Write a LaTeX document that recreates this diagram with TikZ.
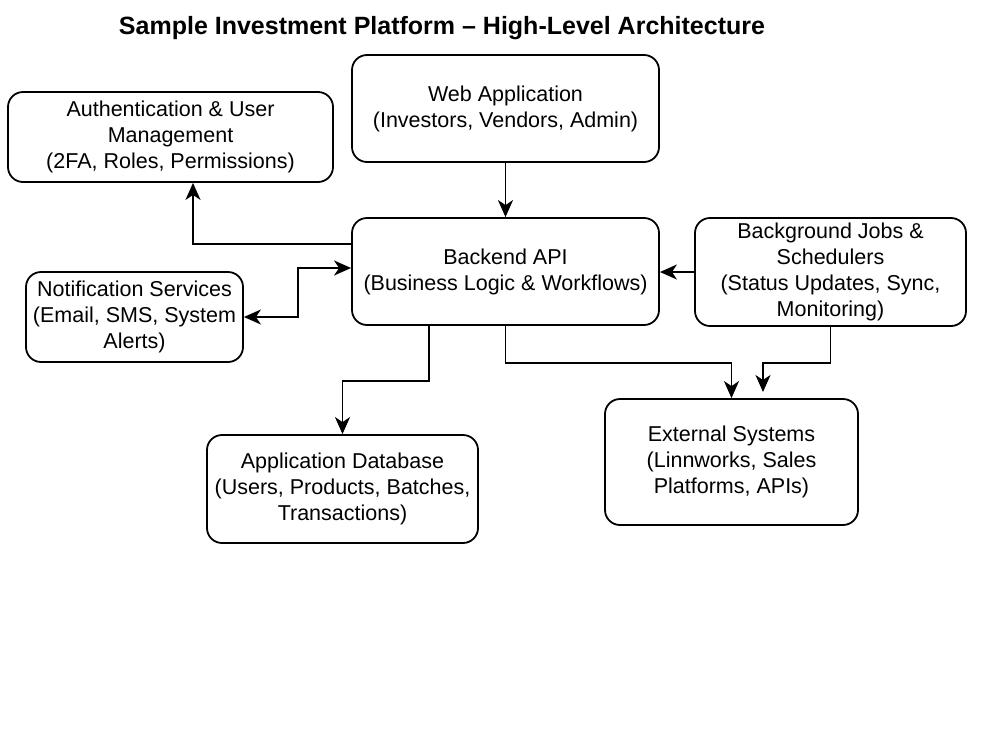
\documentclass[tikz,border=0pt]{standalone}
\usepackage{fontspec}
\setmainfont{Liberation Sans}
\usetikzlibrary{arrows.meta}
\begin{document}
\begin{tikzpicture}[x=1pt,y=-1pt,
 box/.style={draw, line width=1.8pt, rounded corners=15pt, align=center, font=\fontsize{21.5}{26}\selectfont, inner sep=0pt},
 conn/.style={line width=1.8pt, arrows={-Stealth[length=17pt,width=15pt,inset=5pt]}},
 dconn/.style={line width=1.8pt, arrows={Stealth[length=17pt,width=15pt,inset=5pt]-Stealth[length=17pt,width=15pt,inset=5pt]}},
 titlestyle/.style={font=\bfseries\fontsize{25}{28}\selectfont, inner sep=0pt}
]
\useasboundingbox (0,0) rectangle (1000,750);
\node[titlestyle] (title) at (442,28) {Sample Investment Platform – High-Level Architecture};
\node[box, minimum width=325, minimum height=90] (auth) at (170.5,137) {Authentication \& User\\Management\\(2FA, Roles, Permissions)};
\node[box, minimum width=307, minimum height=107] (web) at (505.5,108.5) {Web Application\\(Investors, Vendors, Admin)};
\node[box, minimum width=307, minimum height=107] (backend) at (505.5,271.5) {Backend API\\(Business Logic \& Workflows)};
\node[box, minimum width=271, minimum height=108] (bg) at (830.5,272) {Background Jobs \&\\Schedulers\\(Status Updates, Sync,\\Monitoring)};
\node[box, minimum width=217, minimum height=90] (notif) at (134.5,317) {Notification Services\\(Email, SMS, System\\Alerts)};
\node[box, minimum width=271, minimum height=108] (db) at (342.5,489) {Application Database\\(Users, Products, Batches,\\Transactions)};
\node[box, minimum width=253, minimum height=126] (ext) at (731.5,462) {External Systems\\(Linnworks, Sales\\Platforms, APIs)};
\coordinate (bgend) at (763,392);
\draw[conn] (web) -- (backend);
\draw[conn] ([yshift=27.5pt]backend.west) -| ([xshift=22.5pt]auth.south);
\draw[dconn] (notif.east) -- ++(54,0) |- ([yshift=3.5pt]backend.west);
\draw[conn] (bg.west) -- (bg.west -| backend.east);
\draw[conn] ([xshift=-76.5pt]backend.south) -- ++(0,55) -| (db.north);
\draw[conn] (backend.south) -- ++(0,37) -| (ext.north);
\draw[conn] (bg.south) -- ++(0,36) -| (bgend);
\end{tikzpicture}
\end{document}
